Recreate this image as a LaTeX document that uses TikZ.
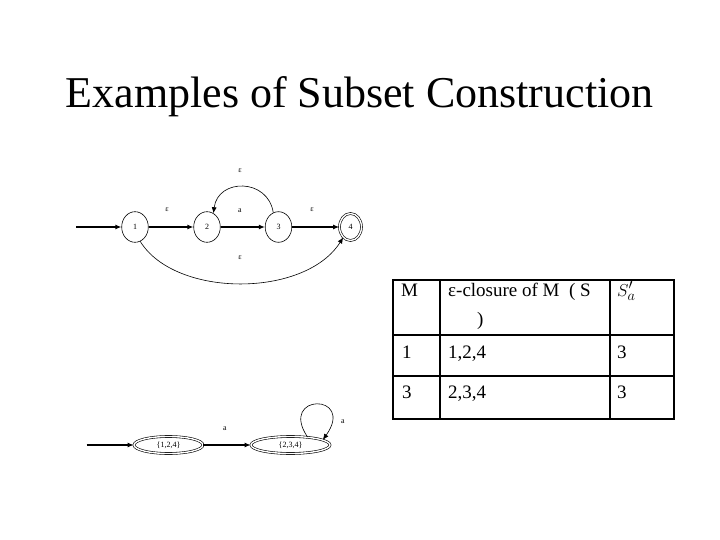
\documentclass[tikz,border=0pt]{standalone}
\usepackage{fontspec}
\setmainfont{Liberation Serif}
\usetikzlibrary{shapes.geometric,arrows.meta}
\begin{document}
\begin{tikzpicture}[x=1pt,y=-1pt,
  st/.style={draw,ellipse,inner sep=0pt,line width=0.6pt,font=\fontsize{8}{9}\selectfont},
  acc/.style={st,double,double distance=1.4pt},
  thick arr/.style={line width=1.5pt,-{Latex[length=6pt,width=5pt]}},
  thin arr/.style={line width=0.6pt,-{Latex[length=6pt,width=5pt]}},
  lab/.style={font=\fontsize{8}{9}\selectfont,inner sep=0pt},
  cell/.style={anchor=base west,inner sep=0pt,font=\fontsize{19}{22}\selectfont},
  tline/.style={line width=1.4pt}]
\useasboundingbox (0,0) rectangle (720,540);
% title
\node[anchor=base,inner sep=0pt,font=\fontsize{44}{50}\selectfont] (title) at (359.5,108) {Examples of Subset Construction};
% NFA
\node[st,minimum width=26.6pt,minimum height=30.6pt] (s1) at (135,227) {1};
\node[st,minimum width=26.6pt,minimum height=30.6pt] (s2) at (207,227) {2};
\node[st,minimum width=26.6pt,minimum height=30.6pt] (s3) at (278.5,227) {3};
\node[acc,minimum width=22pt,minimum height=27pt] (s4) at (350.5,227) {4};
\coordinate (in1) at (76,227);
\draw[thick arr] (in1) -- (s1);
\draw[thick arr] (s1) -- (s2);
\draw[thick arr] (s2) -- (s3);
\draw[thick arr] (s3) -- (s4);
\draw[thin arr] (s3.110) .. controls (268,178) and (218,178) .. (s2.65);
\draw[thin arr] (s1.290) .. controls (175,298) and (305,298) .. (s4.235);
\node[lab] (l12) at (167,210) {ε};
\node[lab] (l23) at (240,211) {a};
\node[lab] (l34) at (312,210) {ε};
\node[lab] (l32) at (240,171) {ε};
\node[lab] (l14) at (240,258) {ε};
% DFA
\node[acc,minimum width=69pt,minimum height=17pt] (d1) at (168.5,445) {\{1,2,4\}};
\node[acc,minimum width=79pt,minimum height=17pt] (d2) at (290.5,445) {\{2,3,4\}};
\coordinate (in2) at (86.5,445);
\draw[thick arr] (in2) -- (d1);
\draw[thick arr] (d1) -- (d2);
\draw[thin arr] (d2.25) .. controls (278,393) and (356,393) .. (d2.9);
\node[lab] (la) at (225,429) {a};
\node[lab] (lb) at (343,422) {a};
% table
\draw[tline] (393,280) rectangle (674,419);
\draw[tline] (440,280) -- (440,419);
\draw[tline] (610,280) -- (610,419);
\draw[tline] (393,335) -- (674,335);
\draw[tline] (393,376) -- (674,376);
\node[cell] (c11) at (401,296) {M};
\node[cell] (c12) at (448,296) {ε-closure of M \ ( S};
\node[cell] (c12b) at (477,325) {)};
\node[cell] (c13) at (617,296) {$S'_a$};
\node[cell] (c21) at (402,358) {1};
\node[cell] (c22) at (448,358) {1,2,4};
\node[cell] (c23) at (617,358) {3};
\node[cell] (c31) at (402,398) {3};
\node[cell] (c32) at (448,398) {2,3,4};
\node[cell] (c33) at (617,398) {3};
\end{tikzpicture}
\end{document}
